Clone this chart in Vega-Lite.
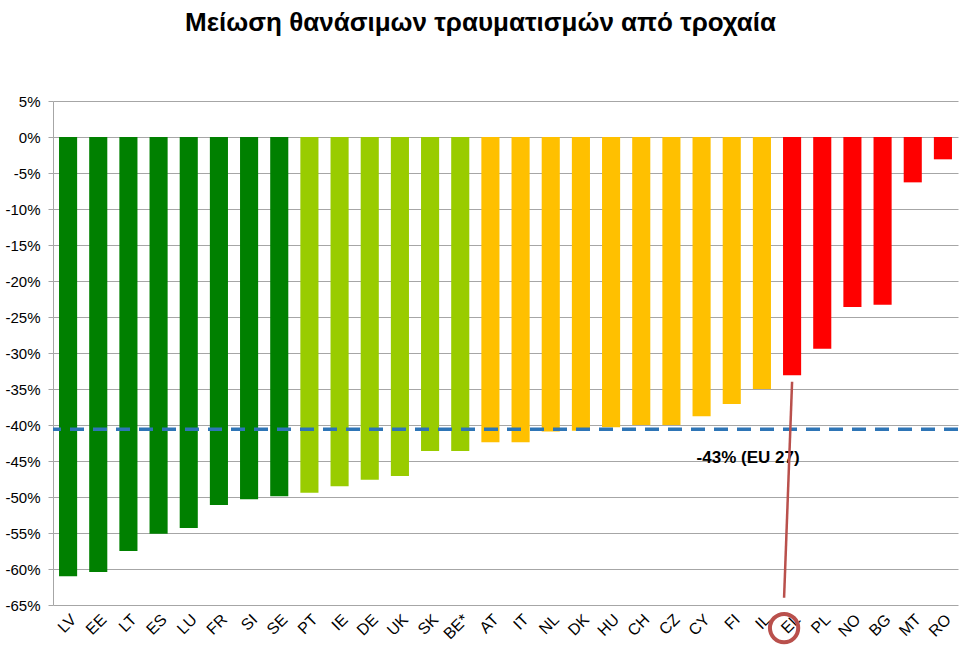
{
  "$schema": "https://vega.github.io/schema/vega-lite/v6.json",
  "width": 905,
  "height": 504,
  "autosize": {"type": "none"},
  "padding": {"left": 53, "top": 101, "right": 2, "bottom": 44},
  "background": "white",
  "config": {
    "view": {"stroke": null},
    "font": "Liberation Sans"
  },
  "title": {
    "text": "Μείωση θανάσιμων τραυματισμών από τροχαία",
    "fontSize": 26,
    "fontWeight": "bold",
    "color": "black",
    "font": "Liberation Sans",
    "anchor": "middle",
    "offset": 58,
    "dx": -25
  },
  "resolve": {"axis": {"x": "independent", "y": "independent"}},
  "datasets": {
    "bars": [
      {"country": "LV", "value": -61.0, "group": "g1"},
      {"country": "EE", "value": -60.4, "group": "g1"},
      {"country": "LT", "value": -57.5, "group": "g1"},
      {"country": "ES", "value": -55.1, "group": "g1"},
      {"country": "LU", "value": -54.3, "group": "g1"},
      {"country": "FR", "value": -51.1, "group": "g1"},
      {"country": "SI", "value": -50.3, "group": "g1"},
      {"country": "SE", "value": -49.9, "group": "g1"},
      {"country": "PT", "value": -49.4, "group": "g2"},
      {"country": "IE", "value": -48.5, "group": "g2"},
      {"country": "DE", "value": -47.6, "group": "g2"},
      {"country": "UK", "value": -47.1, "group": "g2"},
      {"country": "SK", "value": -43.6, "group": "g2"},
      {"country": "BE*", "value": -43.6, "group": "g2"},
      {"country": "AT", "value": -42.4, "group": "g3"},
      {"country": "IT", "value": -42.4, "group": "g3"},
      {"country": "NL", "value": -40.9, "group": "g3"},
      {"country": "DK", "value": -40.8, "group": "g3"},
      {"country": "HU", "value": -40.3, "group": "g3"},
      {"country": "CH", "value": -40.0, "group": "g3"},
      {"country": "CZ", "value": -40.0, "group": "g3"},
      {"country": "CY", "value": -38.8, "group": "g3"},
      {"country": "FI", "value": -37.1, "group": "g3"},
      {"country": "IL", "value": -35.0, "group": "g3"},
      {"country": "EL", "value": -33.1, "group": "g4"},
      {"country": "PL", "value": -29.4, "group": "g4"},
      {"country": "NO", "value": -23.6, "group": "g4"},
      {"country": "BG", "value": -23.3, "group": "g4"},
      {"country": "MT", "value": -6.3, "group": "g4"},
      {"country": "RO", "value": -3.1, "group": "g4"}
    ],
    "eu": [{"value": -40.6, "label": "-43% (EU 27)", "country": "CY", "labelY": -44.6}],
    "pointer": [{"country": "EL", "top": -34.0, "bottom": -64.0, "circleY": -68.2}]
  },
  "layer": [
    {
      "data": {"name": "bars"},
      "mark": {"type": "bar"},
      "encoding": {
        "x": {
          "field": "country",
          "type": "nominal",
          "sort": null,
          "scale": {
            "domain": ["LV","EE","LT","ES","LU","FR","SI","SE","PT","IE","DE","UK","SK","BE*","AT","IT","NL","DK","HU","CH","CZ","CY","FI","IL","EL","PL","NO","BG","MT","RO"],
            "paddingInner": 0.4,
            "paddingOuter": 0.2
          },
          "axis": {"title": null, "labelAngle": -45, "labelFontSize": 16, "labelColor": "black", "ticks": false, "domain": false, "labelPadding": 6}
        },
        "y": {
          "field": "value",
          "type": "quantitative",
          "scale": {"domain": [-65, 5], "nice": false, "zero": false},
          "axis": {
            "title": null,
            "values": [5,0,-5,-10,-15,-20,-25,-30,-35,-40,-45,-50,-55,-60,-65],
            "labelExpr": "datum.value + '%'",
            "labelFontSize": 15,
            "labelColor": "black",
            "labelOverlap": false,
            "labelPadding": 8,
            "tickSize": 5,
            "tickColor": "#A6A6A6",
            "gridColor": "#A6A6A6",
            "domainColor": "#A6A6A6",
            "grid": true
          }
        },
        "y2": {"datum": 0},
        "color": {
          "field": "group",
          "type": "nominal",
          "scale": {"domain": ["g1","g2","g3","g4"], "range": ["#008000","#99CC00","#FFC000","#FF0000"]},
          "legend": null
        }
      }
    },
    {
      "data": {"name": "eu"},
      "mark": {"type": "rule", "color": "#2E75B6", "strokeWidth": 3.5, "strokeDash": [14, 9]},
      "encoding": {
        "y": {"field": "value", "type": "quantitative", "axis": null}
      }
    },
    {
      "data": {"name": "eu"},
      "mark": {"type": "text", "align": "left", "baseline": "middle", "fontSize": 17, "fontWeight": "bold", "color": "black", "dx": -5},
      "encoding": {
        "x": {"field": "country", "type": "nominal", "axis": null},
        "y": {"field": "labelY", "type": "quantitative", "axis": null},
        "text": {"field": "label"}
      }
    },
    {
      "data": {"name": "pointer"},
      "mark": {"type": "rule", "color": "#B9504C", "strokeWidth": 2.5, "x2Offset": -8},
      "encoding": {
        "x": {"field": "country", "type": "nominal", "axis": null},
        "x2": {"field": "country"},
        "y": {"field": "top", "type": "quantitative", "axis": null},
        "y2": {"field": "bottom"}
      }
    },
    {
      "data": {"name": "pointer"},
      "mark": {"type": "point", "filled": false, "stroke": "#B9504C", "strokeWidth": 4, "size": 800, "xOffset": -8, "opacity": 1},
      "encoding": {
        "x": {"field": "country", "type": "nominal", "axis": null},
        "y": {"field": "circleY", "type": "quantitative", "axis": null}
      }
    }
  ]
}
